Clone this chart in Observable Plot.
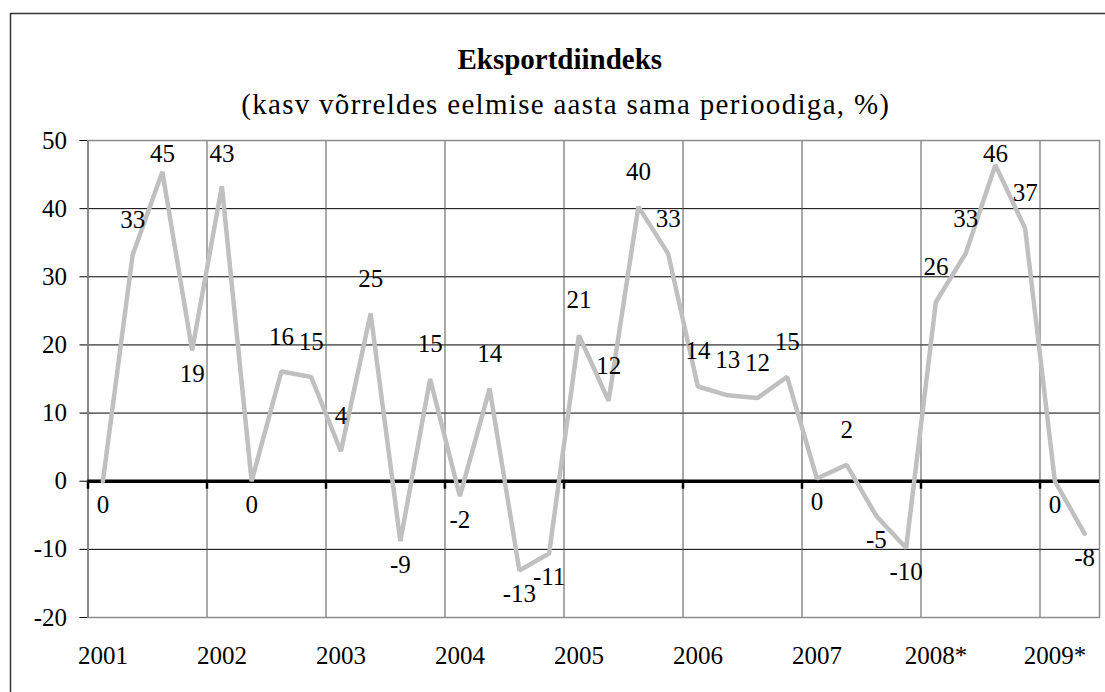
<!DOCTYPE html>
<html>
<head>
<meta charset="utf-8">
<script src="https://cdn.jsdelivr.net/npm/d3@7"></script>
<script src="https://cdn.jsdelivr.net/npm/@observablehq/plot@0.6"></script>
<style>
  html, body { margin: 0; padding: 0; background: #fff; }
  svg { display: block; }
  svg text { font-family: "Liberation Serif", "Times New Roman", serif !important; }
</style>
</head>
<body>
<div id="chart"></div>
<script>
const title = "Eksportdiindeks";
const subtitle = "(kasv võrreldes eelmise aasta sama perioodiga, %)";
const years = ["2001", "2002", "2003", "2004", "2005", "2006", "2007", "2008*", "2009*"];
const quarters = ["I", "II", "III", "IV"];
const values = [0, 33.2, 45.4, 19.2, 43.3, 0, 16.1, 15.3, 4.4, 24.6, -8.8, 15.0,
  -2.2, 13.6, -13.1, -10.6, 21.4, 11.8, 40.3, 33.4, 13.9, 12.6, 12.2, 15.3,
  0.4, 2.4, -5.1, -9.8, 26.3, 33.4, 46.4, 37.1, 0, -7.7];
const yTicks = [-20, -10, 0, 10, 20, 30, 40, 50];

// layout
const W = 1105, H = 692, mTop = 140, mBottom = 75, mLeft = 87.5, mRight = 6;
const yMin = -20, yMax = 50;
const pxPerUnit = (H - mTop - mBottom) / (yMax - yMin);
const aboveOffset = 35, belowOffset = 24, topPad = 13;

const data = values.map((v, i) => {
  const prev = i > 0 ? values[i - 1] : Infinity;
  const next = i < values.length - 1 ? values[i + 1] : Infinity;
  const deepDip = prev - v > 20 && next - v > 20;
  const below = v < 0.5 || deepDip;
  // labels that would leave the plot area are kept inside it (as Excel does)
  const clamped = !below && (yMax - v) * pxPerUnit < aboveOffset + topPad;
  return {
    i, v,
    year: years[Math.floor(i / 4)],
    quarter: quarters[i % 4],
    label: String(Math.round(v)),
    below, clamped
  };
});

// year boundaries (category index space)
const boundaries = years.map((y, k) => k * 4 - 0.5);

const serif = "Liberation Serif";
const textOpts = { fontSize: 25, fontFamily: serif, textAnchor: "middle", lineAnchor: "middle", fill: "#000" };

const chart = Plot.plot({
  width: W,
  height: H,
  marginLeft: mLeft,
  marginRight: mRight,
  marginTop: mTop,
  marginBottom: mBottom,
  style: { fontFamily: serif, fontSize: "25px", background: "#fff", color: "#000" },
  x: { domain: [-0.5, values.length - 0.5], axis: null },
  y: { domain: [yMin, yMax], ticks: yTicks, tickSize: 8, tickPadding: 13, label: null, line: true, tickFormat: d => String(d) },
  marks: [
    Plot.ruleY(yTicks.filter(d => d > yMin && d < yMax && d !== 0), { stroke: "#000", strokeWidth: 1 }),
    Plot.ruleX(boundaries.slice(1), { stroke: "#555", strokeWidth: 1 }),
    Plot.frame({ stroke: "#8c8c8c", strokeWidth: 1.5 }),
    Plot.ruleY([0], { stroke: "#000", strokeWidth: 3.5 }),
    Plot.ruleX(boundaries, { y1: 0, y2: -8 / pxPerUnit, stroke: "#000", strokeWidth: 2.5 }),
    Plot.line(data, { x: "i", y: "v", stroke: "#c0c0c0", strokeWidth: 4.5, strokeLinejoin: "miter" }),
    Plot.text(data.filter(d => !d.below && !d.clamped), { x: "i", y: "v", text: "label", dy: -aboveOffset, ...textOpts }),
    Plot.text(data.filter(d => d.clamped), { x: "i", text: "label", frameAnchor: "top", dy: topPad, ...textOpts }),
    Plot.text(data.filter(d => d.below), { x: "i", y: "v", text: "label", dy: belowOffset, ...textOpts }),
    Plot.text(years, { x: (d, k) => k * 4, text: d => d, frameAnchor: "bottom", dy: 38, ...textOpts }),
    Plot.text([title], { text: d => d, frameAnchor: "top", dx: -34, dy: -81, ...textOpts, fontSize: 29, fontWeight: "bold" }),
    Plot.text([subtitle], { text: d => d, frameAnchor: "top", dx: -28, dy: -36, ...textOpts, fontSize: 29 })
  ]
});

document.getElementById("chart").appendChild(chart);

// subtitle letter spacing, as in the original Excel rendering
d3.select(chart).selectAll("text")
  .filter(function () { return this.textContent === subtitle; })
  .style("letter-spacing", "1.3px");

// outer chart-area border (top and left edges visible in the crop)
d3.select(chart).append("path")
  .attr("d", "M10.5,692 V13.5 H1105")
  .attr("fill", "none")
  .attr("stroke", "#333")
  .attr("stroke-width", 1.5);
</script>
</body>
</html>
